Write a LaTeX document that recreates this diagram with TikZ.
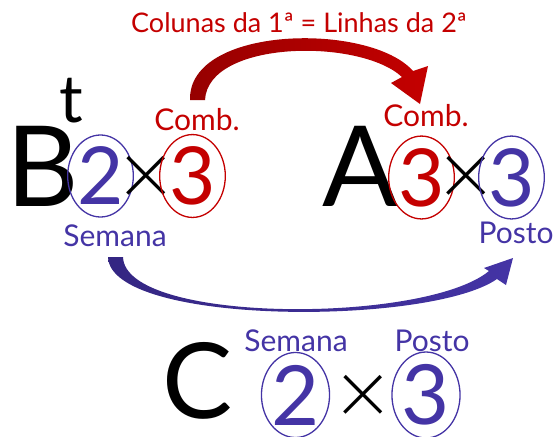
\documentclass[tikz,border=0pt]{standalone}
\usepackage{fontspec}
\setmainfont{Lato}
\IfFontExistsTF{Lato Light}{\newfontfamily\lightfont{Lato Light}}{\newfontfamily\lightfont{Lato}}
\usetikzlibrary{shapes.geometric}
\definecolor{myred}{RGB}{196,0,0}
\definecolor{mydred}{RGB}{150,0,0}
\definecolor{myblue}{RGB}{68,52,165}
\definecolor{mydblue}{RGB}{52,38,130}
\tikzset{
  bigletter/.style={inner sep=0pt, font=\fontsize{112}{112}\selectfont},
  digitbox/.style={ellipse, draw, line width=1.3pt, inner sep=0pt, font=\fontsize{80}{80}\selectfont},
  timessign/.style={inner sep=0pt, font=\lightfont\fontsize{92}{92}\selectfont},
  lab/.style={inner sep=0pt, font=\fontsize{30}{30}\selectfont},
  redtxt/.style={text=myred},
  bluetxt/.style={text=myblue}
}
\begin{document}
\begin{tikzpicture}[x=1pt,y=-1pt]
\useasboundingbox (0,0) rectangle (558,437);
% title
\node[inner sep=0pt, font=\fontsize{27}{27}\selectfont, redtxt] (title) at (299,23) {Colunas da 1ª = Linhas da 2ª};
% left matrix
\node[inner sep=0pt, font=\fontsize{66}{66}\selectfont] (t) at (71,101) {t};
\node[bigletter] (B) at (43,166) {B};
\node[digitbox, draw=myblue, text=myblue, minimum width=55pt, minimum height=82pt] (b2) at (100.5,176) {2};
\node[timessign] (x1) at (146,181) {×};
\node[digitbox, draw=myred, text=myred, minimum width=59pt, minimum height=82pt] (b3) at (192.5,176) {3};
\node[lab, redtxt] (comb1) at (197,120) {Comb.};
\node[lab, bluetxt] (sem1) at (115,236) {Semana};
% right matrix
\node[bigletter] (A) at (360,166) {A};
\node[digitbox, draw=myred, text=myred, minimum width=53pt, minimum height=81pt] (a3) at (421.5,177.5) {3};
\node[timessign] (x2) at (466,181) {×};
\node[digitbox, draw=myblue, text=myblue, minimum width=57pt, minimum height=81pt] (a3b) at (511.5,177.5) {3};
\node[lab, redtxt] (comb2) at (426,116) {Comb.};
\node[lab, bluetxt] (posto1) at (516,233) {Posto};
% result
\node[inner sep=0pt, font=\fontsize{105}{105}\selectfont] (C) at (198,381) {C};
\node[digitbox, draw=myblue, text=myblue, minimum width=55pt, minimum height=78pt, font=\fontsize{83}{83}\selectfont] (c2) at (295.5,395) {2};
\node[timessign] (x3) at (363,400) {×};
\node[digitbox, draw=myblue, text=myblue, minimum width=58pt, minimum height=78pt, font=\fontsize{83}{83}\selectfont] (c3) at (426,395) {3};
\node[lab, bluetxt] (sem2) at (296,341) {Semana};
\node[lab, bluetxt] (posto2) at (432,341) {Posto};
% red arrow
\shade[left color=mydred, right color=myred]
  (190,100) .. controls (188,25) and (370,22) .. (413,71)
  -- (428,66) -- (420,104) -- (391,83) -- (402,77)
  .. controls (360,38) and (208,40) .. (205,100) -- cycle;
% blue arrow
\shade[left color=mydblue, right color=myblue]
  (108,257) .. controls (110,326) and (430,326) .. (497,279)
  -- (506,285) -- (513,258) -- (484,268) -- (489,271)
  .. controls (425,324) and (125,324) .. (123,257) -- cycle;
\end{tikzpicture}
\end{document}
